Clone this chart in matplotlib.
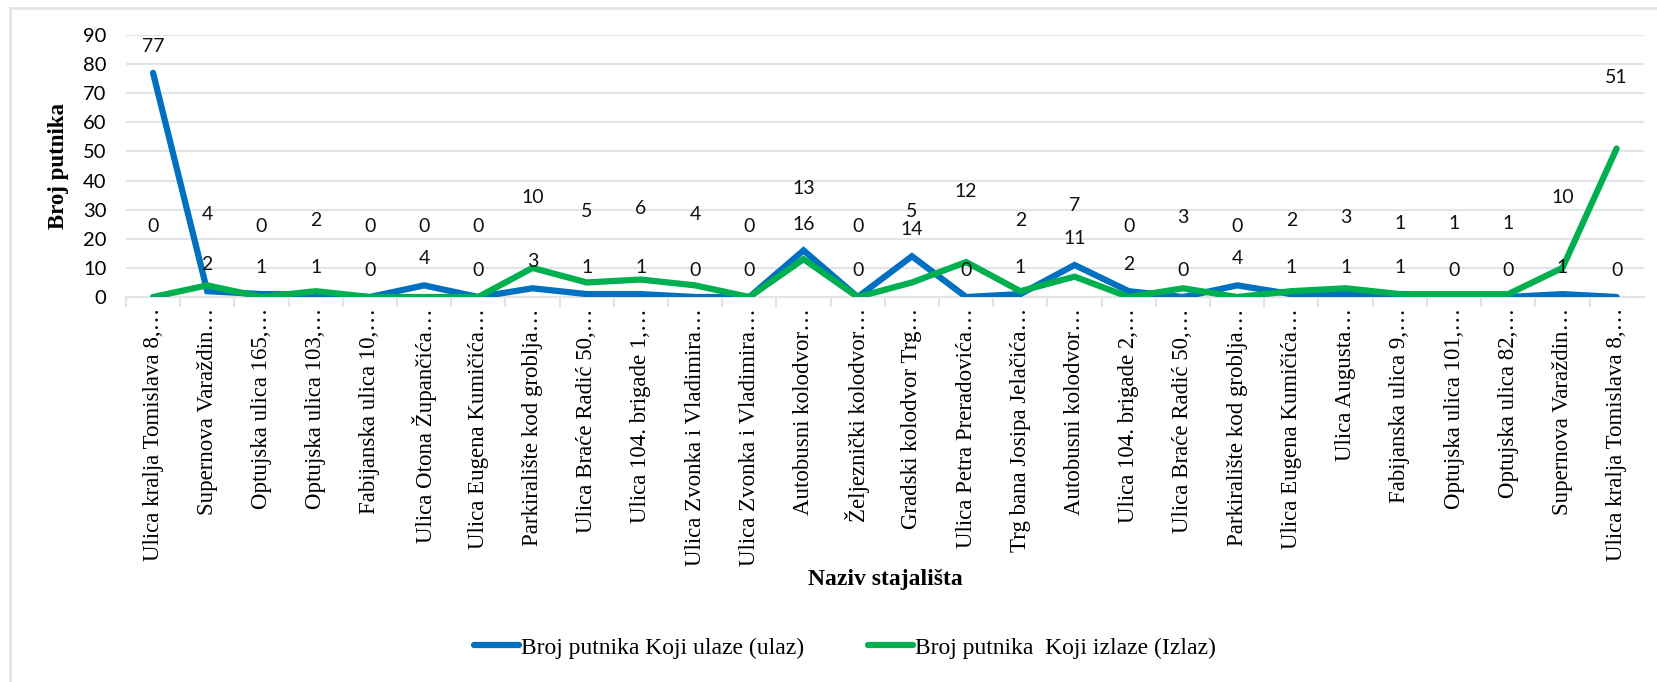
import matplotlib
matplotlib.use("Agg")
import matplotlib.pyplot as plt
from matplotlib.lines import Line2D
from matplotlib.ticker import MultipleLocator

stations = [
    "Ulica kralja Tomislava 8,…", "Supernova Varaždin…", "Optujska ulica 165,…",
    "Optujska ulica 103,…", "Fabijanska ulica 10,…", "Ulica Otona Župančića…",
    "Ulica Eugena Kumičića…", "Parkiralište kod groblja…", "Ulica Braće Radić 50,…",
    "Ulica 104. brigade 1,…", "Ulica Zvonka i Vladimira…", "Ulica Zvonka i Vladimira…",
    "Autobusni kolodvor…", "Željeznički kolodvor…", "Gradski kolodvor Trg…",
    "Ulica Petra Preradovića…", "Trg bana Josipa Jelačića…", "Autobusni kolodvor…",
    "Ulica 104. brigade 2,…", "Ulica Braće Radić 50,…", "Parkiralište kod groblja…",
    "Ulica Eugena Kumičića…", "Ulica Augusta…", "Fabijanska ulica 9,…",
    "Optujska ulica 101,…", "Optujska ulica 82,…", "Supernova Varaždin…",
    "Ulica kralja Tomislava 8,…",
]
ulaz = [77, 2, 1, 1, 0, 4, 0, 3, 1, 1, 0, 0, 16, 0, 14, 0, 1, 11, 2, 0, 4, 1, 1, 1, 0, 0, 1, 0]
izlaz = [0, 4, 0, 2, 0, 0, 0, 10, 5, 6, 4, 0, 13, 0, 5, 12, 2, 7, 0, 3, 0, 2, 3, 1, 1, 1, 10, 51]

blue = "#0070C0"
green = "#00B050"
grid_c = "#E1E4E8"
serif = "Liberation Serif"
sans = "Lato"

fig = plt.figure(figsize=(16.57, 6.82), dpi=100)
ax = fig.add_axes([0.076, 0.5645, 0.916, 0.3842])

x = list(range(len(stations)))
ax.plot(x, ulaz, color=blue, lw=4.5, solid_capstyle="round", solid_joinstyle="miter", zorder=3)
ax.plot(x, izlaz, color=green, lw=4.5, solid_capstyle="round", solid_joinstyle="miter", zorder=4)

for xi, v in zip(x, ulaz):
    ax.annotate(str(v), (xi, v), xytext=(0, 19), textcoords="offset points",
                ha="center", va="center", fontsize=14, family=sans, color="#111111", zorder=5)
for xi, v in zip(x, izlaz):
    ax.annotate(str(v), (xi, v), xytext=(0, 51), textcoords="offset points",
                ha="center", va="center", fontsize=14, family=sans, color="#111111", zorder=5)

ax.set_xlim(-0.5, len(stations) - 0.5)
ax.set_ylim(0, 90)
ax.yaxis.set_major_locator(MultipleLocator(10))
ax.grid(axis="y", color=grid_c, lw=1.5)
ax.set_axisbelow(True)
for s in ["top", "right", "left"]:
    ax.spines[s].set_visible(False)
ax.spines["bottom"].set_color(grid_c)
ax.spines["bottom"].set_linewidth(1.5)

ax.set_xticks(x)
ax.set_xticklabels(stations, rotation=90, fontsize=16.5, family=serif)
ax.set_xticks([i + 0.5 for i in x[:-1]] + [-0.5], minor=True)
ax.tick_params(axis="x", which="major", length=0, pad=8)
ax.tick_params(axis="x", which="minor", length=7, width=1.5, color=grid_c)
ax.tick_params(axis="y", length=0, pad=14)
for t in ax.get_yticklabels():
    t.set_fontsize(14.5)
    t.set_family(sans)

ax.set_ylabel("Broj putnika", fontsize=16.5, family=serif, fontweight="bold", labelpad=10)
fig.text(0.5345, 0.151, "Naziv stajališta", ha="center", va="center",
         fontsize=17, family=serif, fontweight="bold")

handles = [Line2D([], [], color=blue, lw=4.5, solid_capstyle="round"),
           Line2D([], [], color=green, lw=4.5, solid_capstyle="round")]
fig.legend(handles, ["Broj putnika Koji ulaze (ulaz)", "Broj putnika  Koji izlaze (Izlaz)"],
           loc="center", bbox_to_anchor=(0.51, 0.05), ncol=2, frameon=False,
           prop={"family": serif, "size": 17}, handlelength=1.9, handletextpad=0.1,
           columnspacing=2.7)

# chart area border (top and left edges visible)
fig.add_artist(Line2D([0.006, 1.0], [0.988, 0.988], transform=fig.transFigure, color=grid_c, lw=2))
fig.add_artist(Line2D([0.006, 0.006], [0.0, 0.988], transform=fig.transFigure, color=grid_c, lw=2))

fig.savefig("out.png", dpi=100, facecolor="white")
